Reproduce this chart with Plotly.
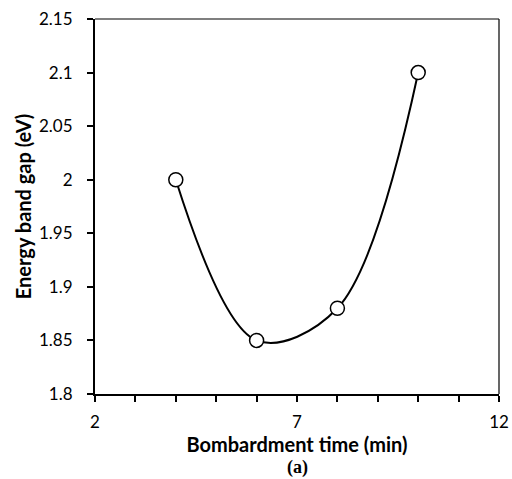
import plotly.graph_objects as go

time_min = [4, 6, 8, 10]
band_gap = [2.0, 1.85, 1.88, 2.1]
x_ticks = [2, 7, 12]
y_ticks = [1.8, 1.85, 1.9, 1.95, 2, 2.05, 2.1, 2.15]
y_tick_text = ["1.8", "1.85", "1.9", "1.95", "2", "2.05", "2.1", "2.15"]

fig = go.Figure()
fig.add_trace(go.Scatter(
    x=time_min, y=band_gap, mode="lines+markers",
    line=dict(color="black", width=2, shape="spline", smoothing=1),
    marker=dict(symbol="circle", size=14, color="white", line=dict(color="black", width=1.5)),
    showlegend=False,
))

tickfont = dict(family="Lato, sans-serif", size=17, color="black")
titlefont = dict(family="Lato, sans-serif", size=20, color="black")
fig.update_layout(
    width=512, height=479,
    margin=dict(l=95, r=13, t=19, b=85),
    paper_bgcolor="white", plot_bgcolor="white",
    xaxis=dict(range=[2, 12], tickvals=x_ticks, ticktext=[str(v) for v in x_ticks],
               ticks="outside", ticklen=6, tickwidth=1.5, tickcolor="black",
               minor=dict(dtick=1, tick0=2, ticks="outside", ticklen=6, tickwidth=1.5, tickcolor="black"),
               showline=True, linecolor="black", linewidth=2, showgrid=False, zeroline=False,
               tickfont=tickfont, ticklabelstandoff=6, automargin=False,
               title=dict(text="<b>Bombardment time (min)</b>", font=titlefont, standoff=0)),
    yaxis=dict(range=[1.8, 2.15], tickvals=y_ticks, ticktext=y_tick_text,
               ticks="outside", ticklen=6, tickwidth=1.5, tickcolor="black",
               showline=True, linecolor="black", linewidth=2, showgrid=False, zeroline=False,
               tickfont=tickfont, ticklabelstandoff=11, automargin=False,
               title=dict(text="<b>Energy band gap (eV)</b>", font=titlefont, standoff=2)),
    shapes=[
        dict(type="line", xref="paper", yref="paper", x0=0, x1=1, y0=1, y1=1, line=dict(color="black", width=1.2)),
        dict(type="line", xref="paper", yref="paper", x0=1, x1=1, y0=0, y1=1, line=dict(color="black", width=1.2)),
    ],
    annotations=[
        dict(text="<b>(a)</b>", xref="paper", yref="paper", x=0.5, y=0, yshift=-73, showarrow=False,
             yanchor="middle", font=dict(family="Liberation Serif, serif", size=18, color="black")),
    ],
)
fig.write_html("out.html")
